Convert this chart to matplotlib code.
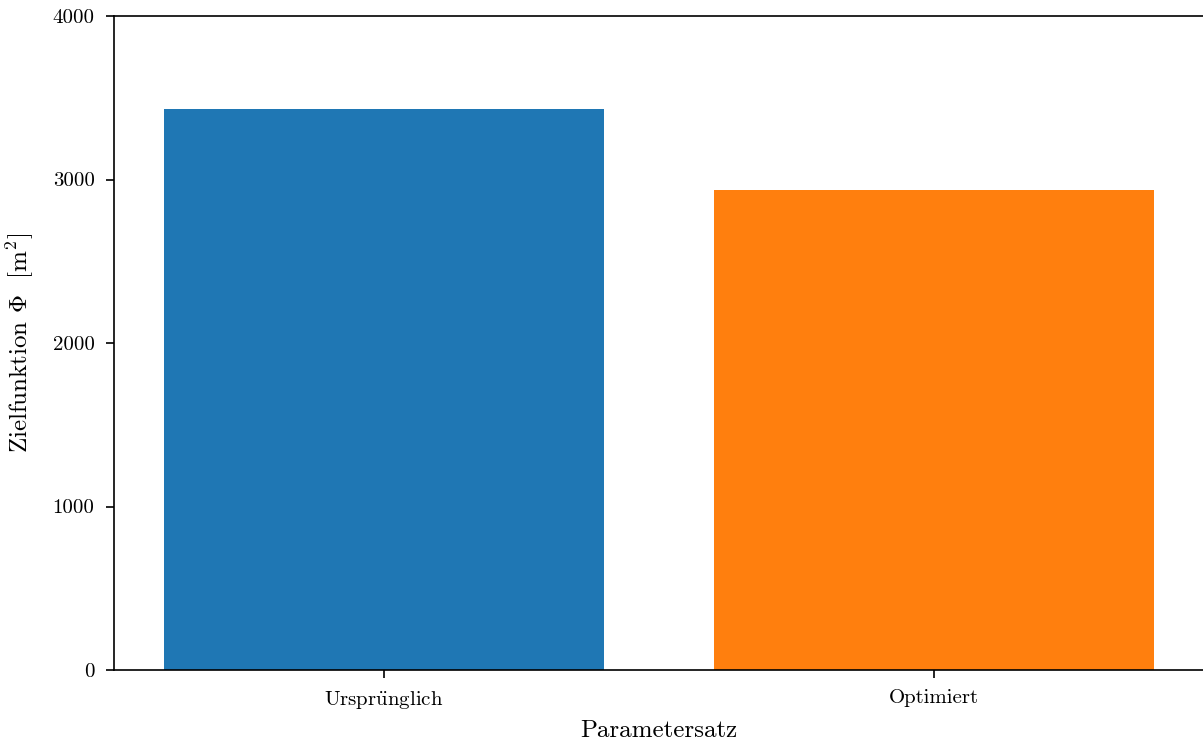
import matplotlib
matplotlib.use("Agg")
import matplotlib.pyplot as plt

categories = ["Urspr$\\ddot{\\mathrm{u}}$nglich", "Optimiert"]
values = [3430, 2935]
colors = ["#1f77b4", "#ff7f0e"]
yticks = [0, 1000, 2000, 3000, 4000]

plt.rcParams["font.family"] = ["cmr10", "DejaVu Serif"]
plt.rcParams["mathtext.fontset"] = "cm"
plt.rcParams["axes.unicode_minus"] = False
plt.rcParams["axes.formatter.use_mathtext"] = True

W, H = 1203, 742
fig = plt.figure(figsize=(W / 100, H / 100), dpi=100)
ax = fig.add_axes([114 / W, (H - 670) / H, (1203.5 - 114) / W, (670 - 16) / H])

x = list(range(len(categories)))
ax.bar(x, values, width=0.8, color=colors)
ax.set_xticks(x)
ax.set_xticklabels(categories, fontsize=15)
ax.set_yticks(yticks)
ax.set_yticklabels([str(v) for v in yticks], fontsize=15)
ax.set_ylim(0, 4000)
ax.set_xlim(-0.49, 1.49)
ax.set_xlabel("Parametersatz", fontsize=18, labelpad=6)
ax.set_ylabel(r"Zielfunktion $\Phi$  $[\mathrm{m}^2]$", fontsize=18, labelpad=12)
ax.tick_params(axis="both", length=6, width=1.2, color="black", pad=8)
for s in ax.spines.values():
    s.set_linewidth(1.2)

fig.savefig("out.png", dpi=100)
